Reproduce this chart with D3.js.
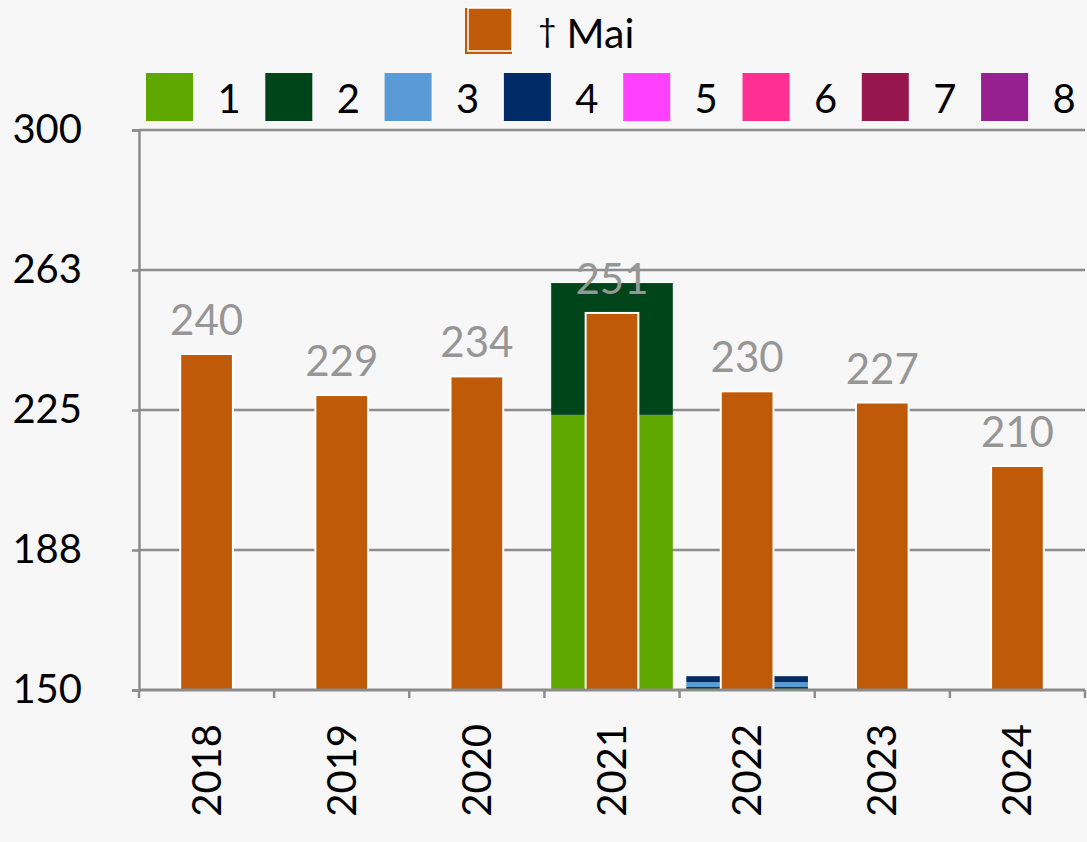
<!DOCTYPE html>
<html>
<head>
<meta charset="utf-8">
<script src="https://cdn.jsdelivr.net/npm/d3@7"></script>
<style>
  body { margin: 0; background: #f7f7f7; }
  svg { display: block; font-family: Lato, "Open Sans", sans-serif; }
</style>
</head>
<body>
<div id="chart"></div>
<script>
const years = ["2018", "2019", "2020", "2021", "2022", "2023", "2024"];
const maiValues = [240, 229, 234, 251, 230, 227, 210];
// stacked series, measured from the axis floor (150)
const seriesKeys = ["1", "2", "3", "4", "5", "6", "7", "8"];
const s1 = [0, 0, 0, 73.7, 0, 0, 0];
const s2 = [0, 0, 0, 35.3, 0.8, 0, 0];
const s3 = [0, 0, 0, 0, 1.3, 0, 0];
const s4 = [0, 0, 0, 0, 1.6, 0, 0];
const s5 = [0, 0, 0, 0, 0, 0, 0];
const s6 = [0, 0, 0, 0, 0, 0, 0];
const s7 = [0, 0, 0, 0, 0, 0, 0];
const s8 = [0, 0, 0, 0, 0, 0, 0];
const yTicks = [150, 187.5, 225, 262.5, 300];
const seriesColors = ["#5fa800", "#00441a", "#5b9bd5", "#002b66", "#ff40ff", "#ff3092", "#96174d", "#962090"];
const maiColor = "#bf5b08";

const width = 1087, height = 842;
const plotLeft = 139, plotRight = 1085, plotTop = 130, plotBottom = 690;
const floor = 150;

const svg = d3.select("#chart").append("svg")
  .attr("width", width).attr("height", height);

const x = d3.scaleBand().domain(years).range([plotLeft, plotRight]).paddingInner(0);
const y = d3.scaleLinear().domain([150, 300]).range([plotBottom, plotTop]);

// grid lines
svg.append("g").selectAll("line")
  .data(yTicks.filter(t => t > 150))
  .enter().append("line")
  .attr("x1", plotLeft).attr("x2", plotRight)
  .attr("y1", d => y(d)).attr("y2", d => y(d))
  .attr("stroke", "#8c8c8c").attr("stroke-width", 2.5);

// y axis
const yAxis = d3.axisLeft(y).tickValues(yTicks).tickFormat(d3.format(".0f")).tickSize(7).tickPadding(50);
const gy = svg.append("g").attr("transform", `translate(${plotLeft},0)`).call(yAxis);
gy.select(".domain").attr("stroke", "#8c8c8c").attr("stroke-width", 2.5);
gy.selectAll(".tick line").attr("stroke", "#8c8c8c").attr("stroke-width", 2.5);
gy.selectAll("text").attr("font-size", 40).attr("fill", "#000").attr("font-family", "Lato, sans-serif");

// stacked bars
const rows = years.map((yr, i) => ({
  year: yr, "1": s1[i], "2": s2[i], "3": s3[i], "4": s4[i],
  "5": s5[i], "6": s6[i], "7": s7[i], "8": s8[i]
}));
const stacked = d3.stack().keys(seriesKeys)(rows);
const stackW = x.bandwidth() * 0.9;

svg.append("g").selectAll("g")
  .data(stacked)
  .enter().append("g")
  .attr("fill", (d, i) => seriesColors[i])
  .selectAll("rect")
  .data(d => d.filter(p => p[1] - p[0] > 0))
  .enter().append("rect")
  .attr("x", d => x(d.data.year) + (x.bandwidth() - stackW) / 2)
  .attr("width", stackW)
  .attr("y", d => y(floor + d[1]))
  .attr("height", d => y(floor + d[0]) - y(floor + d[1]));

// Mai bars
const maiW = x.bandwidth() * 0.39;
svg.append("g").selectAll("rect")
  .data(maiValues)
  .enter().append("rect")
  .attr("x", (d, i) => x(years[i]) + (x.bandwidth() - maiW) / 2)
  .attr("width", maiW)
  .attr("y", d => y(d))
  .attr("height", d => y(floor) - y(d))
  .attr("fill", maiColor)
  .attr("stroke", "#fff").attr("stroke-width", 2);

// value labels
svg.append("g").selectAll("text")
  .data(maiValues)
  .enter().append("text")
  .attr("x", (d, i) => x(years[i]) + x.bandwidth() / 2)
  .attr("y", d => y(d) - 19)
  .attr("text-anchor", "middle")
  .attr("font-size", 42)
  .attr("fill", "#969696")
  .text(d => d);

// x axis
const xAxisLine = svg.append("g");
xAxisLine.append("line")
  .attr("x1", plotLeft).attr("x2", plotRight).attr("y1", plotBottom).attr("y2", plotBottom)
  .attr("stroke", "#8c8c8c").attr("stroke-width", 3);
xAxisLine.selectAll(".xt")
  .data(years.map(yr => x(yr)).concat([plotRight]))
  .enter().append("line")
  .attr("class", "xt")
  .attr("x1", d => d).attr("x2", d => d)
  .attr("y1", plotBottom).attr("y2", plotBottom + 8)
  .attr("stroke", "#8c8c8c").attr("stroke-width", 2.5);

svg.append("g").selectAll("text")
  .data(years)
  .enter().append("text")
  .attr("transform", d => `translate(${x(d) + x.bandwidth() / 2 + 14},${plotBottom + 34}) rotate(-90)`)
  .attr("text-anchor", "end")
  .attr("font-size", 40)
  .attr("fill", "#000")
  .text(d => d);

// legend
const leg = svg.append("g");
leg.append("rect").attr("x", 465).attr("y", 8).attr("width", 47).attr("height", 46).attr("fill", maiColor);
leg.append("rect").attr("x", 468).attr("y", 8).attr("width", 44).attr("height", 43)
  .attr("fill", maiColor).attr("stroke", "#fff").attr("stroke-width", 1.5);
const maiLabel = leg.append("text").attr("x", 538).attr("y", 48).attr("font-size", 41).attr("fill", "#000");
maiLabel.append("tspan").attr("font-size", 32).attr("dy", -6).text("\u2020");
maiLabel.append("tspan").attr("dy", 6).attr("dx", 10).text("Mai");

const legItems = leg.selectAll(".li")
  .data(seriesKeys)
  .enter().append("g")
  .attr("class", "li")
  .attr("transform", (d, i) => `translate(${146 + i * 119.3},73)`);
legItems.append("rect").attr("width", 47).attr("height", 48)
  .attr("fill", (d, i) => seriesColors[i]);
legItems.append("text").attr("x", 83).attr("y", 40)
  .attr("text-anchor", "middle").attr("font-size", 40).attr("fill", "#000")
  .text(d => d);
</script>
</body>
</html>
